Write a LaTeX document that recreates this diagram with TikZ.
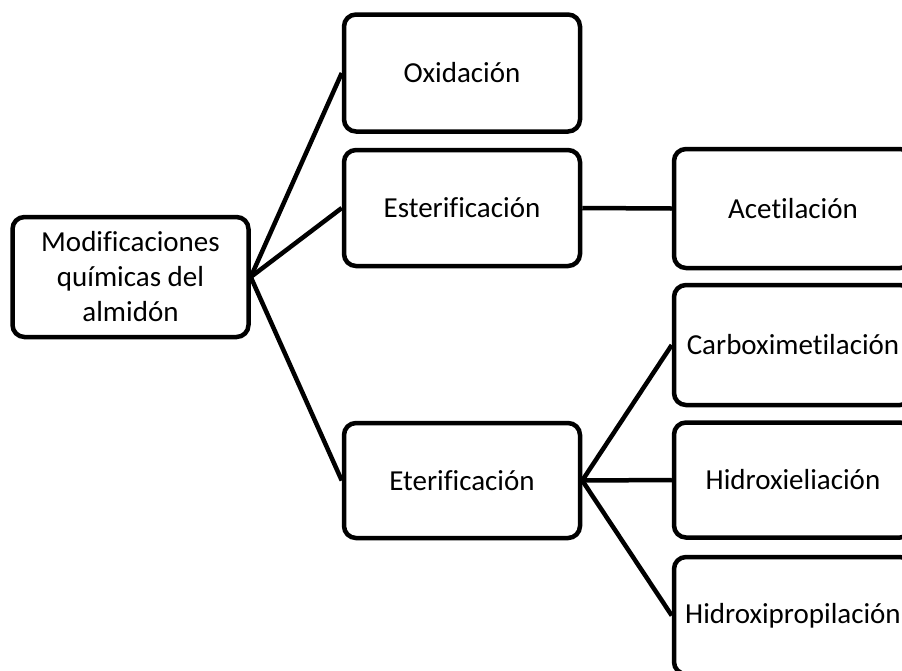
\documentclass[tikz,border=0pt]{standalone}
\usepackage{fontspec}
\setmainfont{Carlito}[Ligatures={NoCommon,NoRequired,NoContextual}]
\begin{document}
\begin{tikzpicture}[x=1pt,y=-1pt,
  box/.style={draw, line width=4.5pt, rounded corners=12pt, font=\fontsize{29}{35}\selectfont, align=center, inner sep=0pt, minimum width=236pt},
  conn/.style={line width=4.5pt}]
\useasboundingbox (0,0) rectangle (902,670);
\clip (0,0) rectangle (902,670);
\node[box, minimum height=120pt] (root) at (130.5,277) {Modificaciones\\químicas del\\almidón};
\node[box, minimum height=117pt] (ox) at (462,73) {Oxidación};
\node[box, minimum height=116pt] (est) at (462,208) {Esterificación};
\node[box, minimum height=115pt] (ete) at (462,480.5) {Eterificación};
\node[box, minimum width=238pt, minimum height=119pt] (acet) at (793,208.5) {Acetilación};
\node[box, minimum width=238pt, minimum height=120pt] (carb) at (793,345) {Carboximetilación};
\node[box, minimum width=238pt, minimum height=115pt] (hie) at (793,480) {Hidroxieliación};
\node[box, minimum width=238pt, minimum height=117pt] (hip) at (793,615.5) {Hidroxipropilación};
\draw[conn] (root.east) -- (ox.west);
\draw[conn] (root.east) -- (est.west);
\draw[conn] (root.east) -- (ete.west);
\draw[conn] (est.east) -- (acet.west);
\draw[conn] (ete.east) -- (carb.west);
\draw[conn] (ete.east) -- (hie.west);
\draw[conn] (ete.east) -- (hip.west);
\end{tikzpicture}
\end{document}
